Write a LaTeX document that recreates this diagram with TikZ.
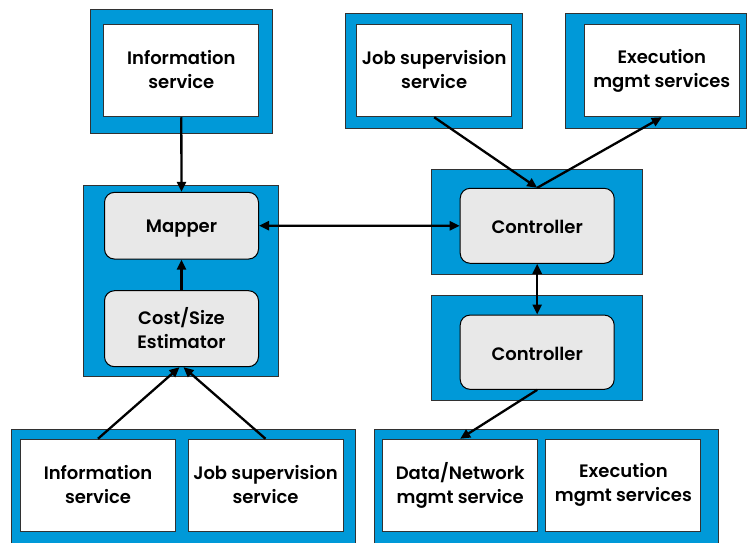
\documentclass[tikz,border=0pt]{standalone}
\usepackage{fontspec}
\setmainfont{Poppins SemiBold}
\usetikzlibrary{arrows.meta,calc}
\definecolor{panelblue}{RGB}{0,153,216}
\definecolor{boxgray}{RGB}{232,232,232}
\definecolor{edgegray}{RGB}{50,50,50}
% line strut that keeps every label at the same vertical offset
\newcommand\labelstrut{\rule[-2.1pt]{0pt}{20pt}}
\begin{document}
\begin{tikzpicture}[x=1pt,y=-1pt,
  label text/.style={align=center,font=\fontsize{18}{24}\selectfont,
    execute at begin node=\labelstrut,execute at end node=\labelstrut},
  panel/.style={draw=edgegray,line width=0.9pt,fill=panelblue,inner sep=0pt},
  service/.style={draw=edgegray,line width=0.9pt,fill=white,inner sep=0pt,
    minimum width=155pt,minimum height=92pt,label text},
  unit/.style={draw=black,line width=1pt,fill=boxgray,rounded corners=10pt,inner sep=0pt,
    minimum width=154pt,label text},
  link/.style={line width=2.3pt,-{Triangle[length=10pt,width=9pt]}},
  twoway/.style={line width=2.3pt,{Triangle[length=10pt,width=9pt]}-{Triangle[length=10pt,width=9pt]}}]
\useasboundingbox (0,0) rectangle (747,543);

% outer panels
\node[panel,minimum width=181.3pt,minimum height=124pt] (pinfo) at (181.3,71) {};
\node[panel,minimum width=177.4pt,minimum height=114.3pt] (pjob) at (434,70.8) {};
\node[panel,minimum width=180.8pt,minimum height=114.3pt] (pexec) at (656.1,70.8) {};
\node[panel,minimum width=195pt,minimum height=190.3pt] (pmap) at (181.2,280.8) {};
\node[panel,minimum width=211pt,minimum height=105pt] (pctrlA) at (537.2,221.5) {};
\node[panel,minimum width=211pt,minimum height=105pt] (pctrlB) at (537.2,348.2) {};
\node[panel,minimum width=343.6pt,minimum height=118.7pt] (pleft) at (183.5,488.7) {};
\node[panel,minimum width=344.3pt,minimum height=118.7pt] (pright) at (546.2,488.7) {};

% service boxes
\node[service] (info) at (181.3,70.8) {Information\\service};
\node[service] (job) at (434.2,70.8) {Job supervision\\service};
\node[service] (exec) at (661.8,70.8) {Execution\\mgmt services};
\node[service] (infoB) at (98,485.2) {Information\\service};
\node[service] (jobB) at (265.5,485.2) {Job supervision\\service};
\node[service] (data) at (460.2,485.2) {Data/Network\\mgmt service};
\node[service] (execB) at (623.4,485.2) {Execution\\mgmt services};

% processing units
\node[unit,minimum height=66.7pt] (mapper) at (181.5,225.7) {Mapper};
\node[unit,minimum height=76pt] (cost) at (181.5,328.7) {Cost/Size\\Estimator};
\node[unit,minimum height=75pt] (ctrlA) at (537.2,225.8) {Controller};
\node[unit,minimum height=74.3pt] (ctrlB) at (537.2,352.2) {Controller};

% connectors
\draw[link] (info.south) -- (mapper.north);
\draw[link] (cost.north) -- (mapper.south);
\draw[twoway] (mapper.east) -- (ctrlA.west);
\draw[link] (job.south) -- (ctrlA.north);
\draw[link] (ctrlA.north) -- (exec.south);
\draw[twoway] (ctrlA.south) -- (ctrlB.north);
\draw[link] (ctrlB.south) -- (data.north);
\draw[link] (infoB.north) -- ($(cost.south)+(-2,0)$);
\draw[link] (jobB.north) -- ($(cost.south)+(2,0)$);
\end{tikzpicture}
\end{document}
